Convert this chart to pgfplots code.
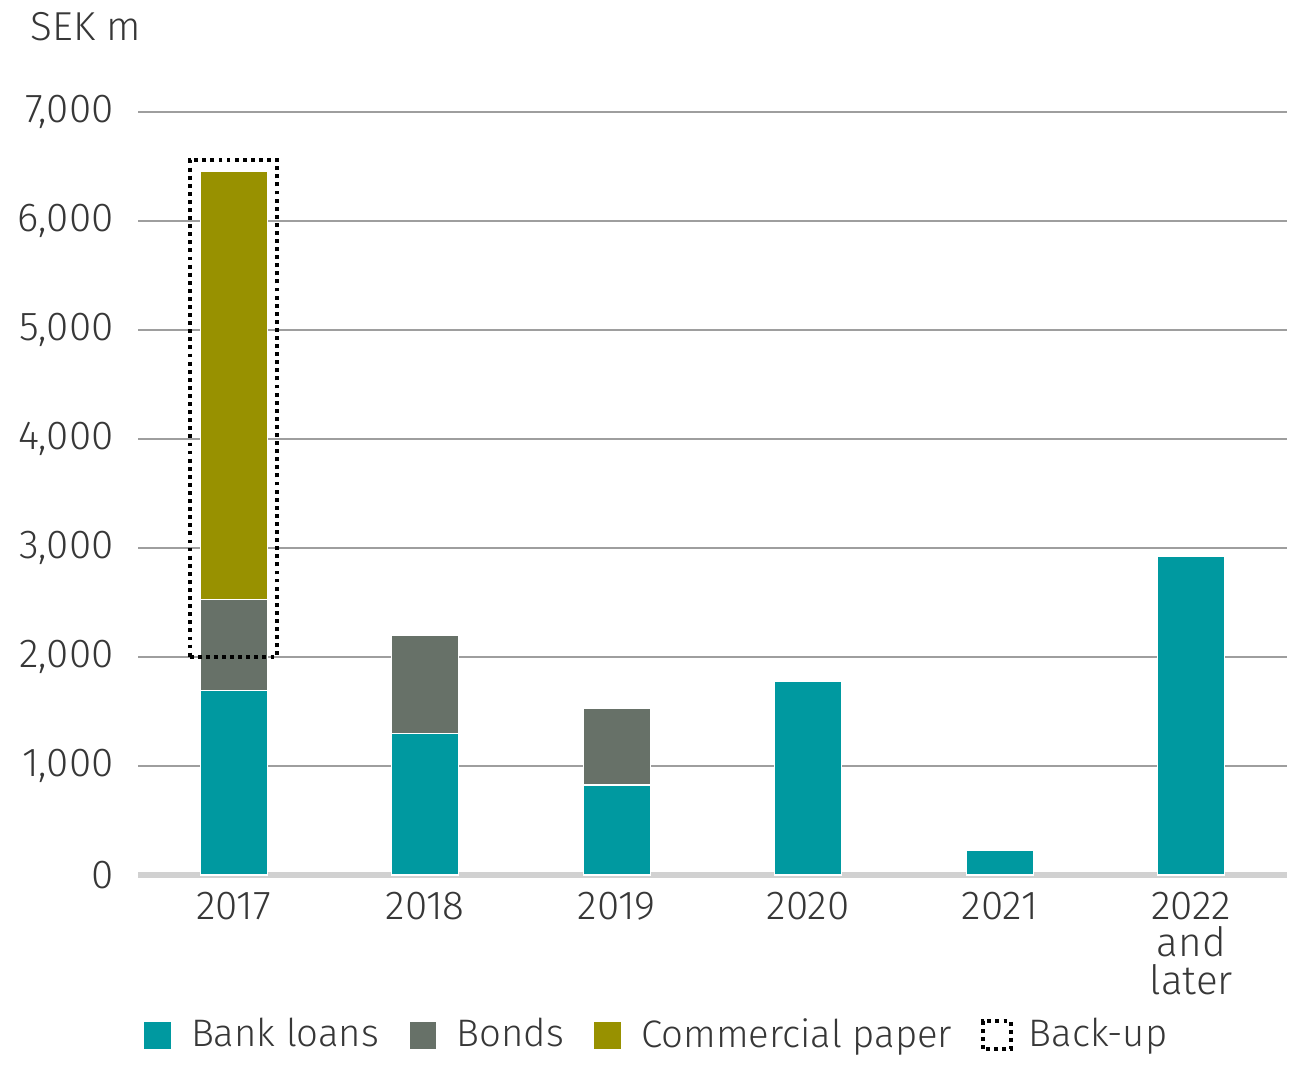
\documentclass[border=0pt]{standalone}
\usepackage{pgfplots}
\pgfplotsset{compat=1.18}
\usepackage{fontspec}
\setmainfont{Fira Sans}[UprightFont=* Light]
\definecolor{bank}{RGB}{0,153,160}
\definecolor{bonds}{RGB}{103,113,104}
\definecolor{cp}{RGB}{152,145,0}
\definecolor{txt}{RGB}{55,55,55}
\begin{document}
\begin{tikzpicture}
\pgfplotsset{
  base/.style={
    scale only axis, width=11.49cm, height=7.63cm,
    xmin=-0.5, xmax=5.5, ymin=0, ymax=7000,
  }
}
\begin{axis}[base, clip=false,
  ybar stacked, bar width=0.67cm,
  axis x line*=bottom, axis y line*=left,
  x axis line style={draw=black!18, line width=1.8pt},
  y axis line style={draw=none},
  ymajorgrids, grid style={draw=black!38, line width=0.6pt},
  ytick={1000,2000,...,7000},
  extra y ticks={0}, extra y tick style={grid=none},
  xtick={0,1,2,3,4,5},
  xticklabels={2017,2018,2019,2020,2021,{2022\\and\\later}},
  xticklabel style={align=center, text=txt, font=\fontsize{11.5}{10.6}\selectfont, yshift=-0.05cm},
  yticklabel style={text=txt, font=\fontsize{11.5}{13}\selectfont, xshift=-0.12cm},
  tick style={draw=none},
  /pgf/number format/.cd, 1000 sep={,}, assume math mode=true,
  /pgfplots/.cd,
  legend style={at={(0.453,-0.21)}, anchor=center, draw=none, legend columns=4,
    font=\fontsize{10.9}{13}\selectfont, text=txt,
    /tikz/every even column/.append style={column sep=0.22cm}},
  legend image code/.code={\fill[#1] (0cm,-0.14cm) rectangle (0.28cm,0.14cm); \path (0.40cm,0);},
]
\coordinate (bl) at (rel axis cs:0,0);
\coordinate (tr) at (rel axis cs:1,1);
\addplot[fill=bank, draw=white, line width=0.4pt] coordinates {(0,1690) (1,1300) (2,825) (3,1780) (4,230) (5,2925)};
\addlegendentry{Bank loans}
\addplot[fill=bonds, draw=white, line width=0.4pt] coordinates {(0,835) (1,900) (2,700) (3,0) (4,0) (5,0)};
\addlegendentry{Bonds}
\addplot[fill=cp, draw=white, line width=0.4pt] coordinates {(0,3935) (1,0) (2,0) (3,0) (4,0) (5,0)};
\addlegendentry{Commercial paper}
\addlegendimage{legend image code/.code={\draw[black, line width=1.1pt, dash pattern=on 1.1pt off 1.2pt] (0.02cm,-0.14cm) rectangle (0.30cm,0.14cm); \path (0.40cm,0);}}
\addlegendentry{Back-up}
\node[anchor=base west, text=txt, font=\fontsize{11.5}{13}\selectfont, inner sep=0pt] at (rel axis cs:-0.094,1.094) {SEK m};
\end{axis}
\begin{axis}[base, hide axis]
\addplot[black, line width=1.1pt, dash pattern=on 1.1pt off 1.2pt, mark=none] coordinates {(-0.23,2000) (0.225,2000) (0.225,6560) (-0.23,6560) (-0.23,2000)};
\end{axis}
\pgfresetboundingbox
\path ([shift={(-1.38cm,-1.91cm)}]bl) rectangle ([shift={(0.13cm,1.12cm)}]tr);
\end{tikzpicture}
\end{document}
